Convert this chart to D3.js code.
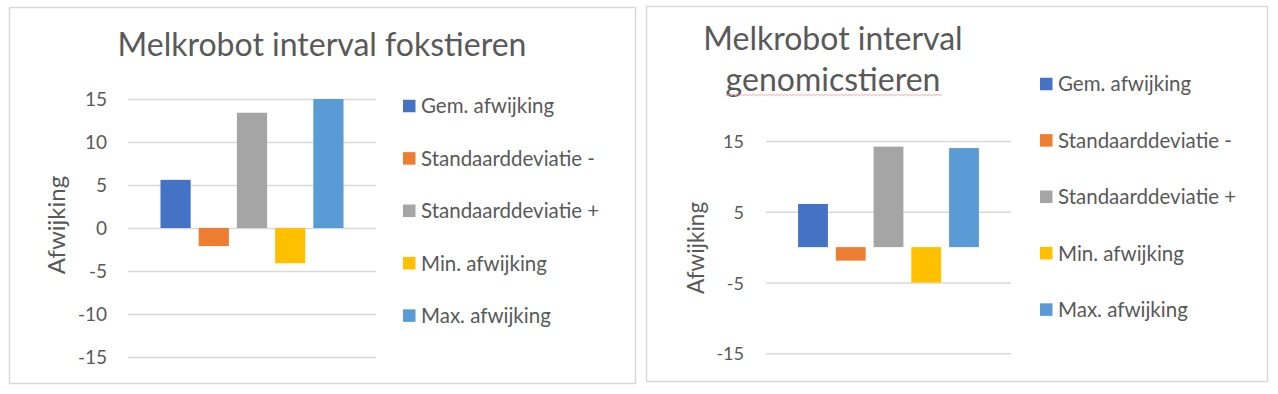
<!DOCTYPE html>
<html>
<head>
<meta charset="utf-8">
<script src="https://cdn.jsdelivr.net/npm/d3@7"></script>
<style>
  html, body { margin: 0; padding: 0; background: #fff; }
  svg { display: block; }
  text { font-family: Lato, "Open Sans", sans-serif; fill: #595959; }
</style>
</head>
<body>
<svg id="chart" width="1278" height="394"></svg>
<script>
// ---- data ----
const seriesNames = ["Gem. afwijking", "Standaarddeviatie -", "Standaarddeviatie +", "Min. afwijking", "Max. afwijking"];
const seriesColors = ["#4472C4", "#ED7D31", "#A5A5A5", "#FFC000", "#5B9BD5"];
const fokValues = [5.6, -2.1, 13.4, -4.1, 15.0];
const genomicValues = [6.1, -1.9, 14.2, -5.0, 14.0];
const fokTicks = [-15, -10, -5, 0, 5, 10, 15];
const genomicTicks = [-15, -5, 5, 15];
const titleFok = ["Melkrobot interval fokstieren"];
const titleGenomic = ["Melkrobot interval", "genomicstieren"];
const axisTitle = "Afwijking";

const svg = d3.select("#chart");

function drawChart(cfg) {
  const g = svg.append("g");
  // frame
  g.append("rect")
    .attr("x", cfg.frame[0] + 0.5).attr("y", cfg.frame[1] + 0.5)
    .attr("width", cfg.frame[2]).attr("height", cfg.frame[3])
    .attr("fill", "#fff").attr("stroke", "#D9D9D9").attr("stroke-width", 1.5);

  const y = d3.scaleLinear().domain([-15, 15]).range([cfg.plot.bottom, cfg.plot.top]);
  const x = d3.scaleBand().domain(seriesNames)
    .range([cfg.plot.left, cfg.plot.right])
    .paddingInner(0.21).paddingOuter(0.85);

  // gridlines + tick labels via axis
  const axis = d3.axisLeft(y).tickValues(cfg.ticks).tickSize(-(cfg.plot.right - cfg.plot.left)).tickPadding(0).tickFormat(d3.format("d"));
  const ag = g.append("g").attr("transform", `translate(${cfg.plot.left},0)`).call(axis);
  ag.select(".domain").remove();
  ag.selectAll(".tick line").attr("stroke", "#D9D9D9").attr("stroke-width", 1.5);
  ag.selectAll(".tick text")
    .attr("x", cfg.tickRight - cfg.plot.left)
    .attr("dy", "0.36em")
    .style("font-size", cfg.tickSize + "px")
    .attr("fill", "#595959")
    .text(d => d3.format("d")(d).replace("−", "-"));

  // bars
  g.append("g").selectAll("rect").data(cfg.values).join("rect")
    .attr("x", (d, i) => x(seriesNames[i]))
    .attr("width", x.bandwidth())
    .attr("y", d => y(Math.max(0, d)))
    .attr("height", d => Math.abs(y(d) - y(0)))
    .attr("fill", (d, i) => seriesColors[i]);

  // axis title
  g.append("text")
    .attr("transform", `translate(${cfg.axisTitle[0]},${cfg.axisTitle[1]}) rotate(-90)`)
    .attr("text-anchor", "middle")
    .style("font-size", cfg.axisTitleSize + "px")
    .text(axisTitle);

  // chart title
  const tt = g.append("g");
  cfg.title.forEach((line, i) => {
    tt.append("text")
      .attr("x", cfg.titlePos[0]).attr("y", cfg.titlePos[1] + i * cfg.titleLine)
      .attr("text-anchor", "middle")
      .style("font-size", cfg.titleSize + "px")
      .text(line);
  });

  // legend
  const lg = g.append("g");
  seriesNames.forEach((name, i) => {
    const cy = cfg.legend.y0 + i * cfg.legend.dy;
    lg.append("rect").attr("x", cfg.legend.x).attr("y", cy - 6.25)
      .attr("width", 12.5).attr("height", 12.5).attr("fill", seriesColors[i]);
    lg.append("text").attr("x", cfg.legend.x + 18).attr("y", cy).attr("dy", "0.36em")
      .style("font-size", cfg.legendSize + "px").text(name);
  });
  return tt;
}

drawChart({
  frame: [9, 7, 626, 376],
  plot: { left: 128, right: 376, top: 99, bottom: 357 },
  ticks: fokTicks, tickRight: 107, tickSize: 19,
  values: fokValues,
  axisTitle: [65, 225], axisTitleSize: 24,
  title: titleFok, titlePos: [322, 56], titleLine: 41, titleSize: 32,
  legend: { x: 403, y0: 106, dy: 52.4 }, legendSize: 20.5
});

const tt2 = drawChart({
  frame: [646, 6, 621, 375],
  plot: { left: 766, right: 1011, top: 141, bottom: 353.3 },
  ticks: genomicTicks, tickRight: 744, tickSize: 18,
  values: genomicValues,
  axisTitle: [704, 248], axisTitleSize: 22.5,
  title: titleGenomic, titlePos: [833, 50], titleLine: 41, titleSize: 32,
  legend: { x: 1040, y0: 84, dy: 56.4 }, legendSize: 20.5
});

// spell-check wavy underline under second title line
const line2 = tt2.selectAll("text").filter((d, i) => i === 1).node();
const bb = line2.getBBox();
const wave = d3.path();
const wy = 95;
wave.moveTo(bb.x, wy);
for (let xx = bb.x, k = 0; xx < bb.x + bb.width; xx += 2, k++) {
  wave.lineTo(xx + 2, wy + (k % 2 ? -0.6 : 0.6));
}
tt2.append("path").attr("d", wave.toString()).attr("fill", "none")
  .attr("stroke", "#F2A7A7").attr("stroke-width", 1);
</script>
</body>
</html>
